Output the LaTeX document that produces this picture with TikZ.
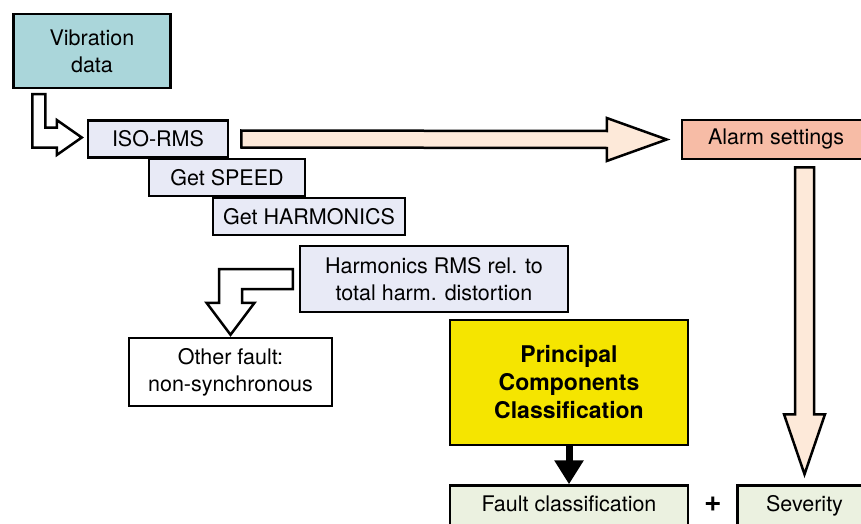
\documentclass[tikz,border=0pt]{standalone}
\usepackage{fontspec}
\setmainfont{TeX Gyre Heros}
\usetikzlibrary{calc, positioning, arrows.meta}

\definecolor{vibteal}{RGB}{170,214,218}
\definecolor{steplav}{RGB}{232,234,246}
\definecolor{alarmred}{RGB}{247,188,166}
\definecolor{arrowpeach}{RGB}{253,233,217}
\definecolor{pcayellow}{RGB}{245,229,0}
\definecolor{resgreen}{RGB}{235,241,224}

\begin{document}
\begin{tikzpicture}[x=1pt, y=-1pt, line join=miter,
    box/.style={draw, line width=2.5pt, rectangle, inner sep=0pt, align=center,
                font=\fontsize{21.5}{27}\selectfont},
    stepbox/.style={box, fill=steplav, minimum height=37pt},
    resbox/.style={box, fill=resgreen, text height=25.5pt, text depth=22pt},
    hollow/.style={draw, line width=2.5pt, fill=white},
    fatarrow/.style={draw, line width=2.5pt, fill=arrowpeach}]

    \useasboundingbox (0,0) rectangle (861,524);

    % Input data and the three processing steps
    \node[box, fill=vibteal, minimum width=157pt, minimum height=74pt] (vib) at (92,51) {Vibration\\data};
    \node[stepbox, minimum width=140pt] (iso) at (158,139) {ISO-RMS};
    \node[stepbox, minimum width=156pt] (speed) at (227,177.5) {Get SPEED};
    \node[stepbox, minimum width=192pt] (harm) at (309,216.5) {Get HARMONICS};
    \node[stepbox, minimum width=268pt, minimum height=66pt] (rel) at (434,279) {Harmonics RMS rel. to\\total harm. distortion};

    % Outcomes
    \node[box, fill=white, minimum width=203pt, minimum height=68pt] (other) at (230.5,372) {Other fault:\\non-synchronous};
    \node[box, fill=alarmred, minimum width=188pt, minimum height=39pt] (alarm) at (776,139.5) {Alarm settings};
    \node[box, fill=pcayellow, minimum width=238pt, minimum height=125pt,
          font=\fontsize{23}{28}\selectfont\bfseries] (pcc) at (569,382.5) {Principal\\Components\\Classification};
    \node[resbox, minimum width=238pt, below=38pt of pcc] (fault) {Fault classification};
    \node[resbox, minimum width=134pt, right=47pt of fault] (sev) {Severity};
    \node[font=\fontsize{30}{30}\selectfont\bfseries, inner sep=0pt, anchor=base] (plus)
        at ($(fault.base east)!0.5!(sev.base west)$) {+};

    % Hollow arrows
    \coordinate (va) at ($(vib.south west)+(20,5)$);
    \coordinate (vb) at ($(vib.south west)+(33,5)$);
    \coordinate (vt) at ($(iso.west)+(-5,-1.5)$);
    \draw[hollow] (va) -- ($(va|-vt)+(0,10)$) -- ($(vt)+(-25,10)$) -- ($(vt)+(-25,17.5)$) -- (vt)
        -- ($(vt)+(-25,-17.5)$) -- ($(vt)+(-25,-10)$) -- ($(vb|-vt)+(0,-10)$) -- (vb) -- cycle;

    \coordinate (or) at ($(rel.west)+(-6,0)$);
    \coordinate (ot) at ($(other.north)+(0,-2)$);
    \draw[hollow] ($(or)+(0,-10)$) -- ($(ot|-or)+(-11.5,-10)$) -- ($(ot)+(-11.5,-32)$) -- ($(ot)+(-24,-32)$) -- (ot)
        -- ($(ot)+(24,-32)$) -- ($(ot)+(11.5,-32)$) -- ($(ot|-or)+(11.5,10)$) -- ($(or)+(0,10)$) -- cycle;

    % Big arrows to and from the alarm settings
    \coordinate (as) at ($(iso.east)+(12,0)$);
    \coordinate (at) at ($(alarm.west)+(-14,0)$);
    \draw[fatarrow] ($(as)+(0,-8.5)$) -- ($(at)+(-60,-8.5)$) -- ($(at)+(-60,-21.5)$) -- (at)
        -- ($(at)+(-60,21.5)$) -- ($(at)+(-60,8.5)$) -- ($(as)+(0,8.5)$) -- cycle;

    \coordinate (ss) at ($(sev.north|-alarm.south)+(0,7)$);
    \coordinate (st) at ($(sev.north)+(0,-10)$);
    \draw[fatarrow] ($(ss)+(-9.5,0)$) -- ($(st)+(-9.5,-60)$) -- ($(st)+(-20.5,-60)$) -- (st)
        -- ($(st)+(20.5,-60)$) -- ($(st)+(9.5,-60)$) -- ($(ss)+(9.5,0)$) -- cycle;

    % Classification result
    \draw[line width=7pt, -{Triangle[length=24pt, width=28pt]}] (pcc.south) -- (fault.north);

\end{tikzpicture}
\end{document}
